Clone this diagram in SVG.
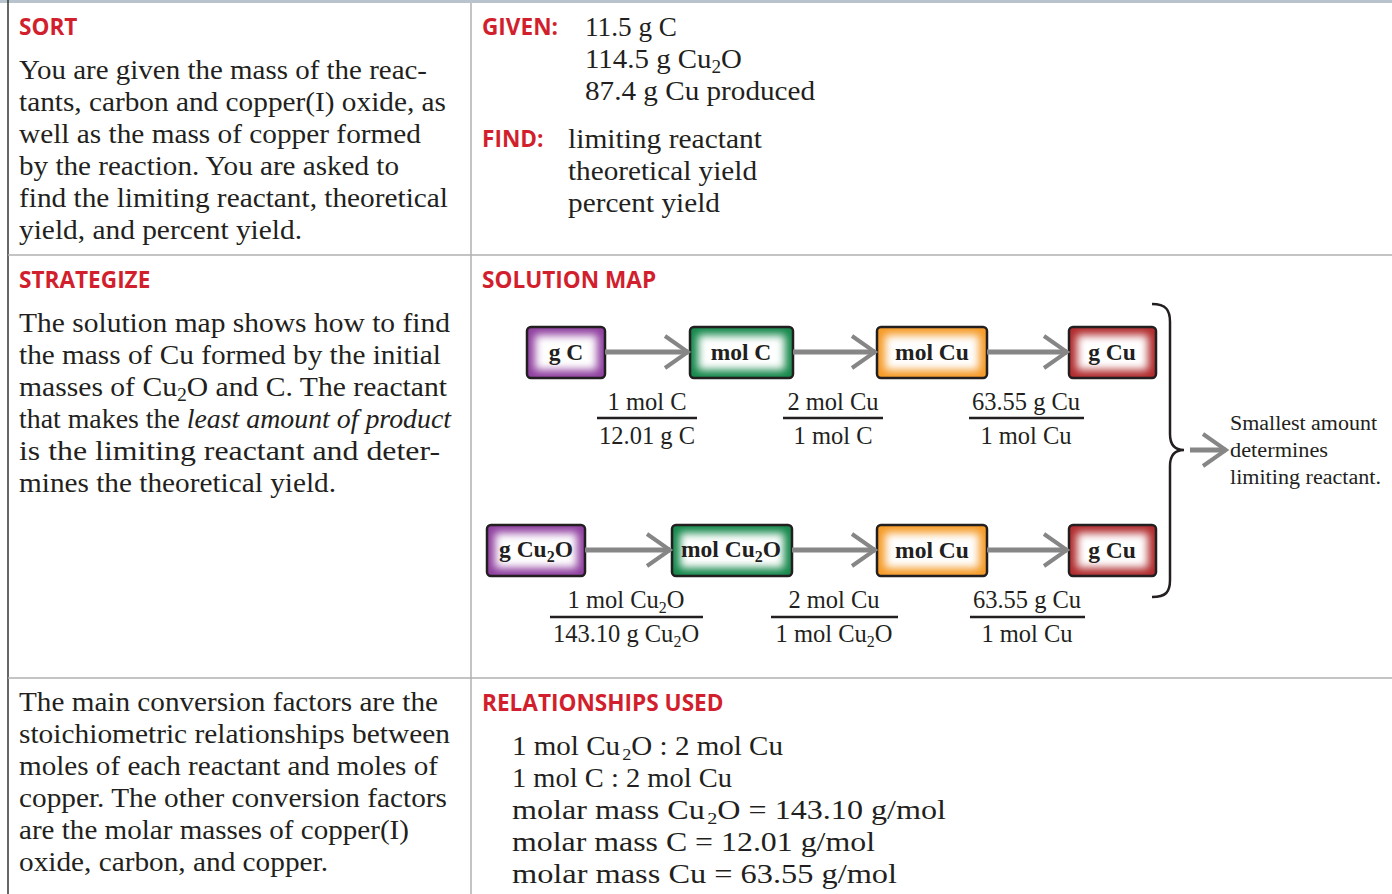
<svg xmlns="http://www.w3.org/2000/svg" width="1392" height="894" viewBox="0 0 1392 894">
  <style>
    .hd { font-family: "Open Sans", "Liberation Sans", sans-serif; font-weight: 700; font-size: 22.6px; fill: #d21f2d; }
    .bd { font-family: "Liberation Serif", serif; font-size: 27px; fill: #231f20; }
    .fr { font-family: "Liberation Serif", serif; font-size: 24.5px; fill: #231f20; text-anchor: middle; }
    .bx { font-family: "Liberation Serif", serif; font-size: 23.5px; font-weight: 700; fill: #231f20; text-anchor: middle; }
    .note { font-family: "Liberation Serif", serif; font-size: 20.5px; fill: #231f20; }
    .edge { fill: none; stroke: #231f20; stroke-width: 2.5; }
    .glow { fill: #ffffff; filter: url(#soft); }
    .grid { stroke: #b0b0b0; stroke-width: 1.5; }
    .bar { stroke: #231f20; stroke-width: 2.5; }
    .conn { fill: none; stroke: #868686; stroke-width: 5; marker-end: url(#chev); }
  </style>
  <defs>
    <filter id="soft" x="-30%" y="-60%" width="160%" height="220%">
      <feGaussianBlur stdDeviation="4"/>
    </filter>
    <marker id="chev" viewBox="0 0 30 40" refX="27" refY="20" markerWidth="30" markerHeight="40" markerUnits="userSpaceOnUse" orient="auto">
      <path d="M4,4 L27,20 L4,36" fill="none" stroke="#868686" stroke-width="4"/>
    </marker>
  </defs>

  <rect width="1392" height="894" fill="#ffffff"/>

  <!-- table rules -->
  <g id="table">
    <line x1="0" y1="1.5" x2="1392" y2="1.5" stroke="#b9c3cd" stroke-width="3"/>
    <line x1="8" y1="0" x2="8" y2="894" stroke="#333333" stroke-width="1.5"/>
    <line class="grid" x1="471" y1="3" x2="471" y2="894"/>
    <line class="grid" x1="8" y1="255" x2="1392" y2="255"/>
    <line class="grid" x1="8" y1="678" x2="1392" y2="678"/>
  </g>

  <!-- row 1: sort -->
  <g id="sort">
    <text class="hd" x="19" y="35">SORT</text>
    <text class="bd" x="19" y="79" textLength="408" lengthAdjust="spacingAndGlyphs">You are given the mass of the reac-</text>
    <text class="bd" x="19" y="111" textLength="427" lengthAdjust="spacingAndGlyphs">tants, carbon and copper(I) oxide, as</text>
    <text class="bd" x="19" y="143" textLength="402" lengthAdjust="spacingAndGlyphs">well as the mass of copper formed</text>
    <text class="bd" x="19" y="175" textLength="380" lengthAdjust="spacingAndGlyphs">by the reaction. You are asked to</text>
    <text class="bd" x="19" y="207" textLength="429" lengthAdjust="spacingAndGlyphs">find the limiting reactant, theoretical</text>
    <text class="bd" x="19" y="239" textLength="283" lengthAdjust="spacingAndGlyphs">yield, and percent yield.</text>
  </g>
  <g id="given">
    <text class="hd" x="482" y="35">GIVEN:</text>
    <text class="bd" x="585" y="36" textLength="92" lengthAdjust="spacingAndGlyphs">11.5 g C</text>
    <text class="bd" x="585" y="68" textLength="157" lengthAdjust="spacingAndGlyphs">114.5 g Cu<tspan font-size="18" dy="5">2</tspan><tspan dy="-5">O</tspan></text>
    <text class="bd" x="585" y="100" textLength="230" lengthAdjust="spacingAndGlyphs">87.4 g Cu produced</text>
    <text class="hd" x="482" y="147">FIND:</text>
    <text class="bd" x="568" y="148" textLength="194" lengthAdjust="spacingAndGlyphs">limiting reactant</text>
    <text class="bd" x="568" y="180" textLength="189" lengthAdjust="spacingAndGlyphs">theoretical yield</text>
    <text class="bd" x="568" y="212" textLength="152" lengthAdjust="spacingAndGlyphs">percent yield</text>
  </g>

  <!-- row 2: strategize -->
  <g id="strategize">
    <text class="hd" x="19" y="288">STRATEGIZE</text>
    <text class="bd" x="19" y="332" textLength="431" lengthAdjust="spacingAndGlyphs">The solution map shows how to find</text>
    <text class="bd" x="19" y="364" textLength="422" lengthAdjust="spacingAndGlyphs">the mass of Cu formed by the initial</text>
    <text class="bd" x="19" y="396" textLength="428" lengthAdjust="spacingAndGlyphs">masses of Cu<tspan font-size="18" dy="5">2</tspan><tspan dy="-5">O and C. The reactant</tspan></text>
    <text class="bd" x="19" y="428" textLength="432" lengthAdjust="spacingAndGlyphs">that makes the <tspan font-style="italic">least amount of product</tspan></text>
    <text class="bd" x="19" y="460" textLength="421" lengthAdjust="spacingAndGlyphs">is the limiting reactant and deter-</text>
    <text class="bd" x="19" y="492" textLength="317" lengthAdjust="spacingAndGlyphs">mines the theoretical yield.</text>
  </g>
  <text class="hd" x="482" y="288">SOLUTION MAP</text>

  <!-- solution map nodes, carbon path -->
  <g id="n-gC">
    <rect x="527" y="327" width="78" height="51" rx="4" fill="#8f3f9f"/>
    <rect class="glow" x="535" y="335" width="62" height="35"/>
    <rect class="edge" x="527" y="327" width="78" height="51" rx="4"/>
    <text class="bx" x="566" y="360">g C</text>
  </g>
  <g id="n-molC">
    <rect x="690" y="327" width="103" height="51" rx="4" fill="#14874a"/>
    <rect class="glow" x="698" y="335" width="87" height="35"/>
    <rect class="edge" x="690" y="327" width="103" height="51" rx="4"/>
    <text class="bx" x="741" y="360">mol C</text>
  </g>
  <g id="n-molCu1">
    <rect x="877" y="327" width="110" height="51" rx="4" fill="#f59a26"/>
    <rect class="glow" x="885" y="335" width="94" height="35"/>
    <rect class="edge" x="877" y="327" width="110" height="51" rx="4"/>
    <text class="bx" x="932" y="360">mol Cu</text>
  </g>
  <g id="n-gCu1">
    <rect x="1069" y="327" width="87" height="51" rx="4" fill="#b02a2c"/>
    <rect class="glow" x="1077" y="335" width="71" height="35"/>
    <rect class="edge" x="1069" y="327" width="87" height="51" rx="4"/>
    <text class="bx" x="1112" y="360">g Cu</text>
  </g>

  <!-- solution map nodes, copper(I) oxide path -->
  <g id="n-gCu2O">
    <rect x="487" y="525" width="98" height="51" rx="4" fill="#8f3f9f"/>
    <rect class="glow" x="495" y="533" width="82" height="35"/>
    <rect class="edge" x="487" y="525" width="98" height="51" rx="4"/>
    <text class="bx" x="536" y="557">g Cu<tspan font-size="16" dy="5">2</tspan><tspan dy="-5">O</tspan></text>
  </g>
  <g id="n-molCu2O">
    <rect x="672" y="525" width="120" height="51" rx="4" fill="#14874a"/>
    <rect class="glow" x="680" y="533" width="104" height="35"/>
    <rect class="edge" x="672" y="525" width="120" height="51" rx="4"/>
    <text class="bx" x="731" y="557">mol Cu<tspan font-size="16" dy="5">2</tspan><tspan dy="-5">O</tspan></text>
  </g>
  <g id="n-molCu2">
    <rect x="877" y="525" width="110" height="51" rx="4" fill="#f59a26"/>
    <rect class="glow" x="885" y="533" width="94" height="35"/>
    <rect class="edge" x="877" y="525" width="110" height="51" rx="4"/>
    <text class="bx" x="932" y="558">mol Cu</text>
  </g>
  <g id="n-gCu2">
    <rect x="1069" y="525" width="87" height="51" rx="4" fill="#b02a2c"/>
    <rect class="glow" x="1077" y="533" width="71" height="35"/>
    <rect class="edge" x="1069" y="525" width="87" height="51" rx="4"/>
    <text class="bx" x="1112" y="558">g Cu</text>
  </g>

  <!-- connectors -->
  <g id="connectors">
    <line class="conn" x1="605" y1="352" x2="688" y2="352"/>
    <line class="conn" x1="793" y1="352" x2="875" y2="352"/>
    <line class="conn" x1="987" y1="352" x2="1067" y2="352"/>
    <line class="conn" x1="585" y1="550" x2="670" y2="550"/>
    <line class="conn" x1="792" y1="550" x2="875" y2="550"/>
    <line class="conn" x1="987" y1="550" x2="1067" y2="550"/>
    <path class="edge" d="M1152,304 C1166,304 1170,310 1170,322 L1170,434 C1170,444 1174,450 1184,450 C1174,450 1170,456 1170,466 L1170,580 C1170,592 1166,597 1152,597"/>
    <line class="conn" x1="1190" y1="450" x2="1226" y2="450"/>
  </g>

  <!-- conversion factors -->
  <g id="factors">
    <text class="fr" x="647" y="410">1 mol C</text>
    <line class="bar" x1="597" y1="418" x2="697" y2="418"/>
    <text class="fr" x="647" y="444">12.01 g C</text>

    <text class="fr" x="833" y="410">2 mol Cu</text>
    <line class="bar" x1="783" y1="418" x2="883" y2="418"/>
    <text class="fr" x="833" y="444">1 mol C</text>

    <text class="fr" x="1026" y="410">63.55 g Cu</text>
    <line class="bar" x1="969" y1="418" x2="1084" y2="418"/>
    <text class="fr" x="1026" y="444">1 mol Cu</text>

    <text class="fr" x="626" y="608">1 mol Cu<tspan font-size="16" dy="5">2</tspan><tspan dy="-5">O</tspan></text>
    <line class="bar" x1="550" y1="617" x2="703" y2="617"/>
    <text class="fr" x="626" y="642">143.10 g Cu<tspan font-size="16" dy="5">2</tspan><tspan dy="-5">O</tspan></text>

    <text class="fr" x="834" y="608">2 mol Cu</text>
    <line class="bar" x1="771" y1="617" x2="898" y2="617"/>
    <text class="fr" x="834" y="642">1 mol Cu<tspan font-size="16" dy="5">2</tspan><tspan dy="-5">O</tspan></text>

    <text class="fr" x="1027" y="608">63.55 g Cu</text>
    <line class="bar" x1="970" y1="617" x2="1085" y2="617"/>
    <text class="fr" x="1027" y="642">1 mol Cu</text>
  </g>

  <g id="note">
    <text class="note" x="1230" y="430" textLength="147" lengthAdjust="spacingAndGlyphs">Smallest amount</text>
    <text class="note" x="1230" y="457" textLength="98" lengthAdjust="spacingAndGlyphs">determines</text>
    <text class="note" x="1230" y="484" textLength="151" lengthAdjust="spacingAndGlyphs">limiting reactant.</text>
  </g>

  <!-- row 3: relationships -->
  <g id="explain">
    <text class="bd" x="19" y="711" textLength="419" lengthAdjust="spacingAndGlyphs">The main conversion factors are the</text>
    <text class="bd" x="19" y="743" textLength="431" lengthAdjust="spacingAndGlyphs">stoichiometric relationships between</text>
    <text class="bd" x="19" y="775" textLength="419" lengthAdjust="spacingAndGlyphs">moles of each reactant and moles of</text>
    <text class="bd" x="19" y="807" textLength="428" lengthAdjust="spacingAndGlyphs">copper. The other conversion factors</text>
    <text class="bd" x="19" y="839" textLength="390" lengthAdjust="spacingAndGlyphs">are the molar masses of copper(I)</text>
    <text class="bd" x="19" y="871" textLength="309" lengthAdjust="spacingAndGlyphs">oxide, carbon, and copper.</text>
  </g>
  <g id="relationships">
    <text class="hd" x="482" y="711">RELATIONSHIPS USED</text>
    <text class="bd" x="512" y="755" textLength="271" lengthAdjust="spacingAndGlyphs">1 mol Cu<tspan font-size="17" dx="2" dy="5">2</tspan><tspan dy="-5">O : 2 mol Cu</tspan></text>
    <text class="bd" x="512" y="787" textLength="220" lengthAdjust="spacingAndGlyphs">1 mol C : 2 mol Cu</text>
    <text class="bd" x="512" y="819" textLength="434" lengthAdjust="spacingAndGlyphs">molar mass Cu<tspan font-size="17" dx="2" dy="5">2</tspan><tspan dy="-5">O  =  143.10  g/mol</tspan></text>
    <text class="bd" x="512" y="851" textLength="363" lengthAdjust="spacingAndGlyphs">molar mass C  =  12.01 g/mol</text>
    <text class="bd" x="512" y="883" textLength="385" lengthAdjust="spacingAndGlyphs">molar mass Cu  =  63.55  g/mol</text>
  </g>
</svg>
